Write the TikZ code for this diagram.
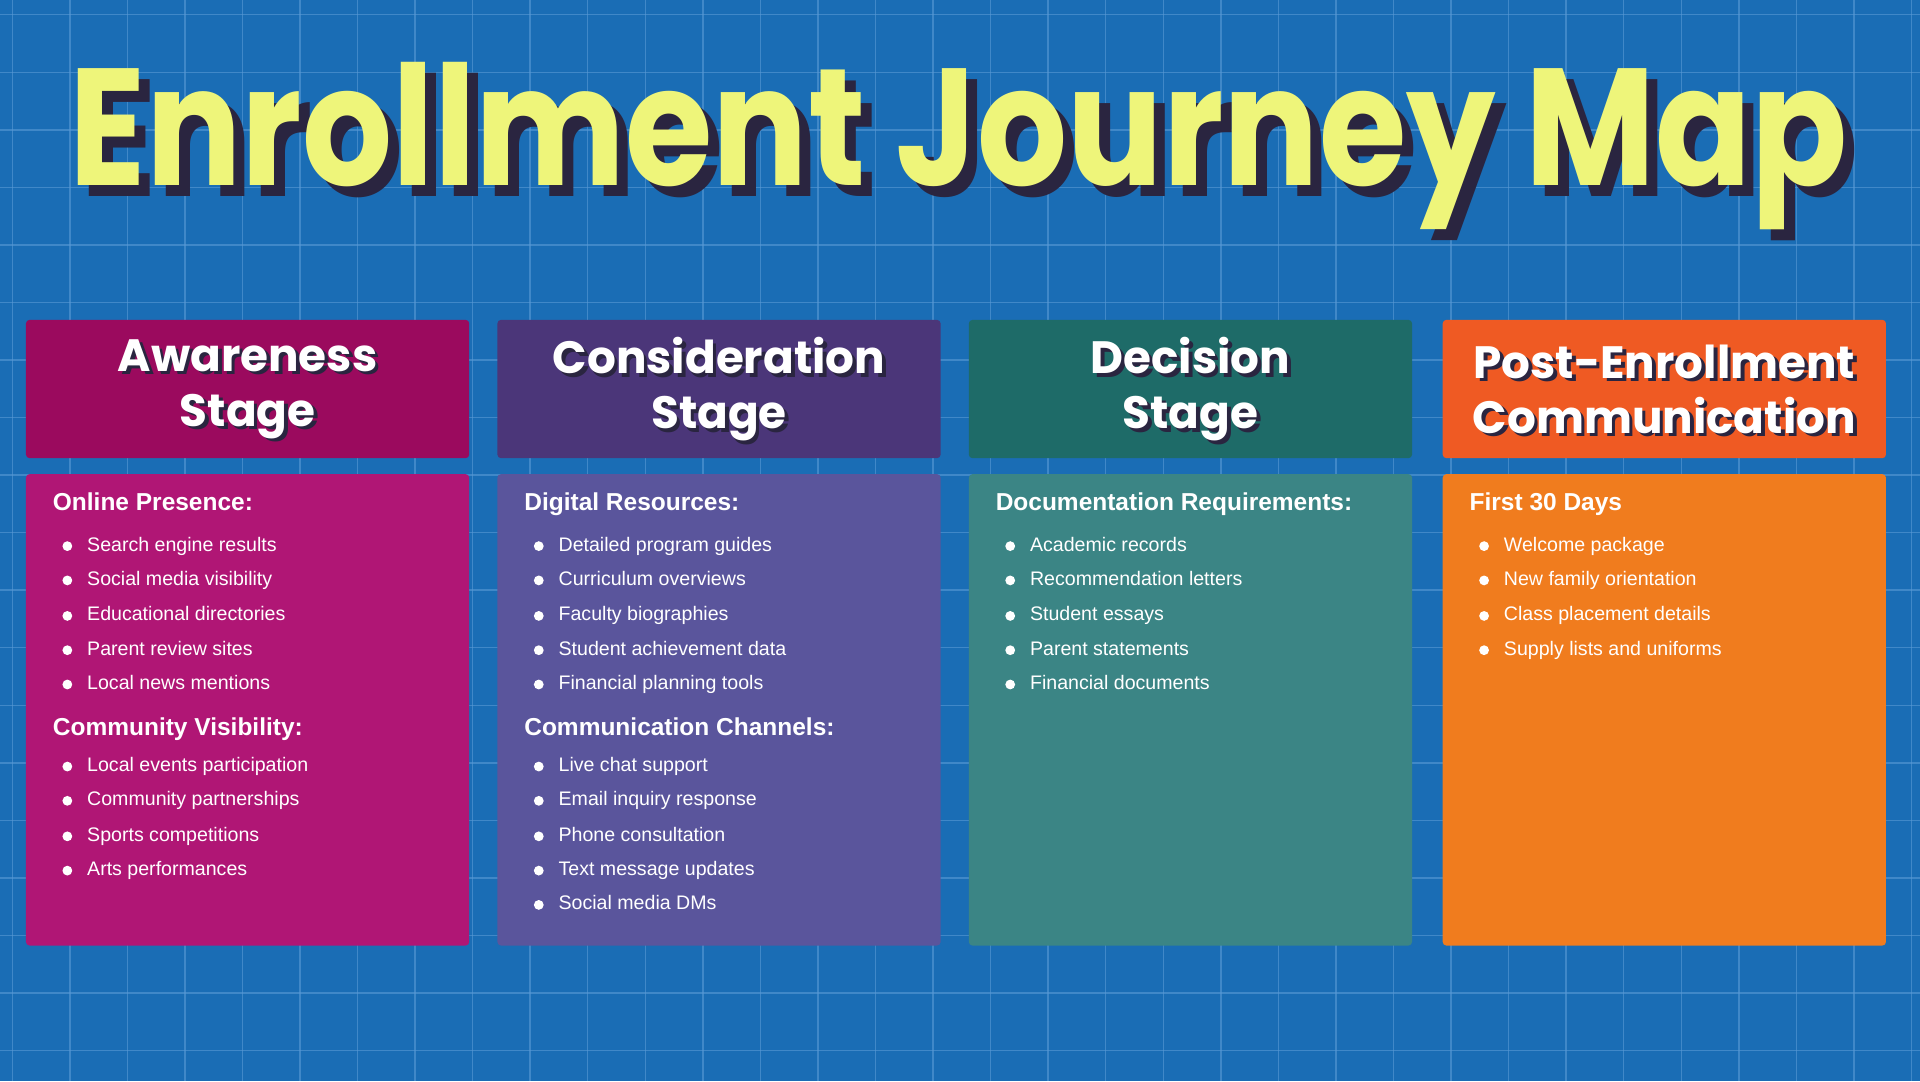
\documentclass[tikz,border=0pt]{standalone}
\usepackage{fontspec}
\setmainfont{Liberation Sans}
\newfontfamily\titlefont{Poppins}[UprightFont=* Bold]
\usetikzlibrary{positioning}
\definecolor{bgblue}{HTML}{1A6DB5}
\definecolor{gridblue}{HTML}{5A9AD6}
\definecolor{titleyel}{HTML}{EEF57A}
\definecolor{shadowc}{HTML}{2A2540}
\definecolor{headA}{HTML}{9B0A5E}\definecolor{bodyA}{HTML}{B01675}
\definecolor{headB}{HTML}{4B3679}\definecolor{bodyB}{HTML}{5A559C}
\definecolor{headC}{HTML}{1E6B68}\definecolor{bodyC}{HTML}{3B8585}
\definecolor{headD}{HTML}{EF5A23}\definecolor{bodyD}{HTML}{F07C1E}
\tikzset{
  head/.style={rounded corners=3pt, minimum width=362pt, minimum height=113pt, inner sep=0pt, anchor=north west},
  body/.style={rounded corners=3pt, minimum width=362pt, minimum height=385pt, inner sep=0pt, anchor=north west},
  stagetxt/.style={text=white, font=\titlefont\fontsize{37}{45}\selectfont, align=center},
  stageshd/.style={text=shadowc, font=\titlefont\fontsize{37}{45}\selectfont, align=center},
  bigtitle/.style={font=\titlefont\fontsize{136}{140}\selectfont, xscale=0.85, transform shape},
  sect/.style={text=white, font=\bfseries\fontsize{20}{24}\selectfont, anchor=west, inner sep=0pt, text height=14pt, text depth=4pt},
  item/.style={text=white, font=\fontsize{16}{19}\selectfont, anchor=west, inner sep=0pt, text height=11pt, text depth=3pt},
  dot/.style={circle, fill=white, minimum size=8pt, inner sep=0pt}
}
% one list item: name, x of card, y, text
\newcommand{\listitem}[4]{%
  \node[dot] (#1d) at (#2+34,#3) {};
  \node[item] (#1) at (#2+50,#3) {#4};}
\begin{document}
\begin{tikzpicture}[x=1pt,y=-1pt]
  \useasboundingbox (0,0) rectangle (1568,883);
  \fill[bgblue] (0,0) rectangle (1568,883);
  \foreach \i in {0,...,33} \draw[gridblue, line width=1.2pt, opacity=0.6] (10+47*\i,0) -- (10+47*\i,883);
  \foreach \j in {0,...,19} \draw[gridblue, line width=1.2pt, opacity=0.6] (0,12+47*\j) -- (1568,12+47*\j);
  % title
  \node[bigtitle, text=shadowc] (titleshd) at (792,128) {Enrollment Journey Map};
  \node[bigtitle, text=titleyel] (title) at (783,119) {Enrollment Journey Map};
  % headers
  \node[head, fill=headA] (hA) at (21,261) {};
  \node[head, fill=headB] (hB) at (406,261) {};
  \node[head, fill=headC] (hC) at (791,261) {};
  \node[head, fill=headD] (hD) at (1178,261) {};
  \foreach \n/\t in {hA/{Awareness\\Stage}, hB/{Consideration\\Stage}, hC/{Decision\\Stage}, hD/{Post-Enrollment\\Communication}} {
    \node[stageshd] at ([xshift=3pt,yshift=-3pt]\n.center) {\t};
    \node[stagetxt] at (\n.center) {\t};
  }
  % bodies
  \node[body, fill=bodyA] (bA) at (21,387) {};
  \node[body, fill=bodyB] (bB) at (406,387) {};
  \node[body, fill=bodyC] (bC) at (791,387) {};
  \node[body, fill=bodyD] (bD) at (1178,387) {};
  % awareness
  \node[sect] (sA1) at (43,412) {Online Presence:};
  \listitem{a1}{21}{446}{Search engine results}
  \listitem{a2}{21}{474}{Social media visibility}
  \listitem{a3}{21}{503}{Educational directories}
  \listitem{a4}{21}{531}{Parent review sites}
  \listitem{a5}{21}{559}{Local news mentions}
  \node[sect] (sA2) at (43,596) {Community Visibility:};
  \listitem{a6}{21}{626}{Local events participation}
  \listitem{a7}{21}{654}{Community partnerships}
  \listitem{a8}{21}{683}{Sports competitions}
  \listitem{a9}{21}{711}{Arts performances}
  % consideration
  \node[sect] (sB1) at (428,412) {Digital Resources:};
  \listitem{b1}{406}{446}{Detailed program guides}
  \listitem{b2}{406}{474}{Curriculum overviews}
  \listitem{b3}{406}{503}{Faculty biographies}
  \listitem{b4}{406}{531}{Student achievement data}
  \listitem{b5}{406}{559}{Financial planning tools}
  \node[sect] (sB2) at (428,596) {Communication Channels:};
  \listitem{b6}{406}{626}{Live chat support}
  \listitem{b7}{406}{654}{Email inquiry response}
  \listitem{b8}{406}{683}{Phone consultation}
  \listitem{b9}{406}{711}{Text message updates}
  \listitem{b10}{406}{739}{Social media DMs}
  % decision
  \node[sect] (sC1) at (813,412) {Documentation Requirements:};
  \listitem{c1}{791}{446}{Academic records}
  \listitem{c2}{791}{474}{Recommendation letters}
  \listitem{c3}{791}{503}{Student essays}
  \listitem{c4}{791}{531}{Parent statements}
  \listitem{c5}{791}{559}{Financial documents}
  % post-enrollment
  \node[sect] (sD1) at (1200,412) {First 30 Days};
  \listitem{d1}{1178}{446}{Welcome package}
  \listitem{d2}{1178}{474}{New family orientation}
  \listitem{d3}{1178}{503}{Class placement details}
  \listitem{d4}{1178}{531}{Supply lists and uniforms}
\end{tikzpicture}
\end{document}
